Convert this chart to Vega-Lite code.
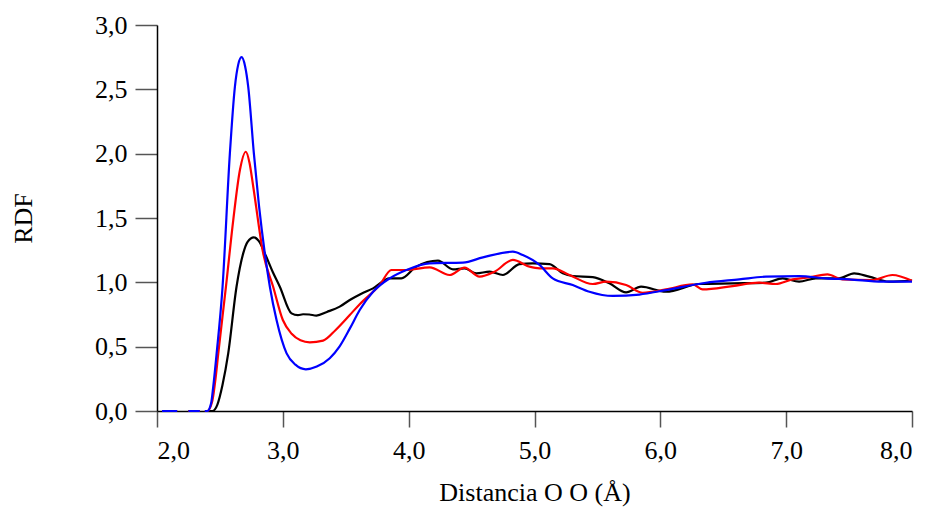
{
  "$schema": "https://vega.github.io/schema/vega-lite/v6.json",
  "width": 755,
  "height": 386,
  "autosize": {"type": "none"},
  "padding": {"left": 157, "top": 25, "right": 18, "bottom": 102},
  "background": "white",
  "config": {
    "view": {"stroke": null},
    "font": "Liberation Serif",
    "axis": {
      "grid": false,
      "labelFont": "Liberation Serif",
      "titleFont": "Liberation Serif",
      "labelFontSize": 26,
      "titleFontSize": 26,
      "titleFontWeight": "normal",
      "labelColor": "#000",
      "titleColor": "#000",
      "domainColor": "#000",
      "domainWidth": 1.5,
      "tickColor": "#555",
      "tickWidth": 1.5
    }
  },
  "data": {
    "values": [
      {"serie": "1", "r": 2.04, "g": 0},
      {"serie": "1", "r": 2.16, "g": 0},
      {"serie": "1", "r": 2.2, "g": null},
      {"serie": "1", "r": 2.25, "g": 0},
      {"serie": "1", "r": 2.34, "g": 0},
      {"serie": "1", "r": 2.36, "g": null},
      {"serie": "1", "r": 2.39, "g": 0},
      {"serie": "1", "r": 2.44, "g": 0},
      {"serie": "1", "r": 2.48, "g": 0.05},
      {"serie": "1", "r": 2.52, "g": 0.2},
      {"serie": "1", "r": 2.566, "g": 0.448},
      {"serie": "1", "r": 2.632, "g": 0.966},
      {"serie": "1", "r": 2.685, "g": 1.225},
      {"serie": "1", "r": 2.72, "g": 1.315},
      {"serie": "1", "r": 2.77, "g": 1.35},
      {"serie": "1", "r": 2.81, "g": 1.32},
      {"serie": "1", "r": 2.857, "g": 1.225},
      {"serie": "1", "r": 2.92, "g": 1.08},
      {"serie": "1", "r": 2.976, "g": 0.966},
      {"serie": "1", "r": 3.069, "g": 0.759},
      {"serie": "1", "r": 3.12, "g": 0.745},
      {"serie": "1", "r": 3.161, "g": 0.752},
      {"serie": "1", "r": 3.21, "g": 0.75},
      {"serie": "1", "r": 3.267, "g": 0.742},
      {"serie": "1", "r": 3.35, "g": 0.77},
      {"serie": "1", "r": 3.452, "g": 0.811},
      {"serie": "1", "r": 3.532, "g": 0.863},
      {"serie": "1", "r": 3.62, "g": 0.91},
      {"serie": "1", "r": 3.717, "g": 0.953},
      {"serie": "1", "r": 3.849, "g": 1.031},
      {"serie": "1", "r": 3.942, "g": 1.031},
      {"serie": "1", "r": 4.061, "g": 1.122},
      {"serie": "1", "r": 4.233, "g": 1.168},
      {"serie": "1", "r": 4.352, "g": 1.101},
      {"serie": "1", "r": 4.444, "g": 1.109},
      {"serie": "1", "r": 4.537, "g": 1.07},
      {"serie": "1", "r": 4.643, "g": 1.083},
      {"serie": "1", "r": 4.749, "g": 1.057},
      {"serie": "1", "r": 4.881, "g": 1.142},
      {"serie": "1", "r": 4.987, "g": 1.147},
      {"serie": "1", "r": 5.119, "g": 1.142},
      {"serie": "1", "r": 5.225, "g": 1.07},
      {"serie": "1", "r": 5.304, "g": 1.049},
      {"serie": "1", "r": 5.463, "g": 1.04},
      {"serie": "1", "r": 5.595, "g": 0.992},
      {"serie": "1", "r": 5.728, "g": 0.922},
      {"serie": "1", "r": 5.847, "g": 0.966},
      {"serie": "1", "r": 6.045, "g": 0.927},
      {"serie": "1", "r": 6.31, "g": 0.987},
      {"serie": "1", "r": 6.574, "g": 0.992},
      {"serie": "1", "r": 6.839, "g": 0.997},
      {"serie": "1", "r": 6.971, "g": 1.031},
      {"serie": "1", "r": 7.103, "g": 1.005},
      {"serie": "1", "r": 7.235, "g": 1.031},
      {"serie": "1", "r": 7.42, "g": 1.031},
      {"serie": "1", "r": 7.54, "g": 1.07},
      {"serie": "1", "r": 7.659, "g": 1.044},
      {"serie": "1", "r": 7.817, "g": 1.005},
      {"serie": "1", "r": 8.0, "g": 1.013},

      {"serie": "2", "r": 2.04, "g": 0},
      {"serie": "2", "r": 2.16, "g": 0},
      {"serie": "2", "r": 2.2, "g": null},
      {"serie": "2", "r": 2.25, "g": 0},
      {"serie": "2", "r": 2.34, "g": 0},
      {"serie": "2", "r": 2.36, "g": null},
      {"serie": "2", "r": 2.38, "g": 0},
      {"serie": "2", "r": 2.4, "g": 0},
      {"serie": "2", "r": 2.44, "g": 0.08},
      {"serie": "2", "r": 2.465, "g": 0.25},
      {"serie": "2", "r": 2.487, "g": 0.448},
      {"serie": "2", "r": 2.548, "g": 0.966},
      {"serie": "2", "r": 2.606, "g": 1.484},
      {"serie": "2", "r": 2.659, "g": 1.873},
      {"serie": "2", "r": 2.706, "g": 2.015},
      {"serie": "2", "r": 2.735, "g": 1.93},
      {"serie": "2", "r": 2.765, "g": 1.743},
      {"serie": "2", "r": 2.844, "g": 1.225},
      {"serie": "2", "r": 2.923, "g": 0.966},
      {"serie": "2", "r": 3.0, "g": 0.707},
      {"serie": "2", "r": 3.07, "g": 0.6},
      {"serie": "2", "r": 3.14, "g": 0.55},
      {"serie": "2", "r": 3.214, "g": 0.534},
      {"serie": "2", "r": 3.32, "g": 0.547},
      {"serie": "2", "r": 3.42, "g": 0.63},
      {"serie": "2", "r": 3.532, "g": 0.746},
      {"serie": "2", "r": 3.611, "g": 0.83},
      {"serie": "2", "r": 3.77, "g": 0.979},
      {"serie": "2", "r": 3.863, "g": 1.096},
      {"serie": "2", "r": 3.982, "g": 1.096},
      {"serie": "2", "r": 4.167, "g": 1.117},
      {"serie": "2", "r": 4.325, "g": 1.057},
      {"serie": "2", "r": 4.444, "g": 1.114},
      {"serie": "2", "r": 4.563, "g": 1.044},
      {"serie": "2", "r": 4.683, "g": 1.083},
      {"serie": "2", "r": 4.828, "g": 1.174},
      {"serie": "2", "r": 4.96, "g": 1.122},
      {"serie": "2", "r": 5.04, "g": 1.109},
      {"serie": "2", "r": 5.145, "g": 1.109},
      {"serie": "2", "r": 5.278, "g": 1.057},
      {"serie": "2", "r": 5.463, "g": 0.987},
      {"serie": "2", "r": 5.569, "g": 1.005},
      {"serie": "2", "r": 5.728, "g": 0.979},
      {"serie": "2", "r": 5.86, "g": 0.919},
      {"serie": "2", "r": 6.045, "g": 0.945},
      {"serie": "2", "r": 6.257, "g": 0.984},
      {"serie": "2", "r": 6.336, "g": 0.945},
      {"serie": "2", "r": 6.574, "g": 0.971},
      {"serie": "2", "r": 6.786, "g": 0.997},
      {"serie": "2", "r": 6.918, "g": 0.987},
      {"serie": "2", "r": 7.05, "g": 1.023},
      {"serie": "2", "r": 7.183, "g": 1.039},
      {"serie": "2", "r": 7.328, "g": 1.062},
      {"serie": "2", "r": 7.447, "g": 1.023},
      {"serie": "2", "r": 7.685, "g": 1.018},
      {"serie": "2", "r": 7.844, "g": 1.057},
      {"serie": "2", "r": 8.0, "g": 1.013},

      {"serie": "3", "r": 2.04, "g": 0},
      {"serie": "3", "r": 2.16, "g": 0},
      {"serie": "3", "r": 2.2, "g": null},
      {"serie": "3", "r": 2.25, "g": 0},
      {"serie": "3", "r": 2.34, "g": 0},
      {"serie": "3", "r": 2.36, "g": null},
      {"serie": "3", "r": 2.38, "g": 0},
      {"serie": "3", "r": 2.4, "g": 0},
      {"serie": "3", "r": 2.43, "g": 0.06},
      {"serie": "3", "r": 2.447, "g": 0.19},
      {"serie": "3", "r": 2.474, "g": 0.448},
      {"serie": "3", "r": 2.521, "g": 0.966},
      {"serie": "3", "r": 2.579, "g": 2.0},
      {"serie": "3", "r": 2.619, "g": 2.52},
      {"serie": "3", "r": 2.645, "g": 2.69},
      {"serie": "3", "r": 2.672, "g": 2.75},
      {"serie": "3", "r": 2.7, "g": 2.68},
      {"serie": "3", "r": 2.725, "g": 2.52},
      {"serie": "3", "r": 2.77, "g": 2.0},
      {"serie": "3", "r": 2.81, "g": 1.6},
      {"serie": "3", "r": 2.857, "g": 1.225},
      {"serie": "3", "r": 2.897, "g": 0.966},
      {"serie": "3", "r": 2.95, "g": 0.707},
      {"serie": "3", "r": 3.03, "g": 0.448},
      {"serie": "3", "r": 3.1, "g": 0.36},
      {"serie": "3", "r": 3.183, "g": 0.324},
      {"serie": "3", "r": 3.27, "g": 0.345},
      {"serie": "3", "r": 3.373, "g": 0.41},
      {"serie": "3", "r": 3.45, "g": 0.5},
      {"serie": "3", "r": 3.532, "g": 0.64},
      {"serie": "3", "r": 3.611, "g": 0.785},
      {"serie": "3", "r": 3.717, "g": 0.927},
      {"serie": "3", "r": 3.849, "g": 1.031},
      {"serie": "3", "r": 3.982, "g": 1.096},
      {"serie": "3", "r": 4.167, "g": 1.148},
      {"serie": "3", "r": 4.431, "g": 1.153},
      {"serie": "3", "r": 4.59, "g": 1.194},
      {"serie": "3", "r": 4.828, "g": 1.238},
      {"serie": "3", "r": 4.907, "g": 1.212},
      {"serie": "3", "r": 5.04, "g": 1.135},
      {"serie": "3", "r": 5.145, "g": 1.031},
      {"serie": "3", "r": 5.304, "g": 0.979},
      {"serie": "3", "r": 5.437, "g": 0.927},
      {"serie": "3", "r": 5.622, "g": 0.894},
      {"serie": "3", "r": 5.833, "g": 0.905},
      {"serie": "3", "r": 6.045, "g": 0.94},
      {"serie": "3", "r": 6.362, "g": 0.997},
      {"serie": "3", "r": 6.627, "g": 1.023},
      {"serie": "3", "r": 6.839, "g": 1.044},
      {"serie": "3", "r": 7.103, "g": 1.049},
      {"serie": "3", "r": 7.315, "g": 1.031},
      {"serie": "3", "r": 7.5, "g": 1.023},
      {"serie": "3", "r": 7.765, "g": 1.005},
      {"serie": "3", "r": 8.0, "g": 1.005}
    ]
  },
  "mark": {"type": "line", "interpolate": "monotone", "strokeWidth": 2.2, "invalid": "break-paths-show-domains"},
  "encoding": {
    "x": {
      "field": "r",
      "type": "quantitative",
      "scale": {"domain": [2, 8], "nice": false, "zero": false},
      "axis": {
        "title": "Distancia O O (Å)",
        "values": [2, 3, 4, 5, 6, 7, 8],
        "labelExpr": "replace(format(datum.value, '.1f'), '.', ',')",
        "tickSize": 16,
        "labelPadding": 10,
        "titlePadding": 16
      }
    },
    "y": {
      "field": "g",
      "type": "quantitative",
      "scale": {"domain": [0, 3], "nice": false},
      "axis": {
        "title": "RDF",
        "values": [0, 0.5, 1, 1.5, 2, 2.5, 3],
        "labelExpr": "replace(format(datum.value, '.1f'), '.', ',')",
        "tickSize": 22,
        "labelPadding": 8,
        "titlePadding": 58
      }
    },
    "color": {
      "field": "serie",
      "type": "nominal",
      "scale": {"domain": ["1", "2", "3"], "range": ["#000000", "#ff0000", "#0000ff"]},
      "legend": null
    }
  }
}
